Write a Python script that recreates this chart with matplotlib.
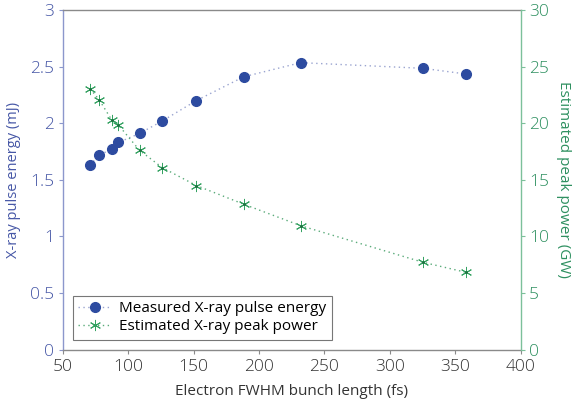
import matplotlib
matplotlib.use("Agg")
import matplotlib.pyplot as plt

plt.rcParams['font.family'] = ['Open Sans', 'DejaVu Sans']

bunch_length = [70.9, 78.0, 87.4, 92.5, 108.8, 126.1, 152.1, 188.3, 231.9, 325.3, 358.0]
pulse_energy = [1.63, 1.72, 1.77, 1.83, 1.91, 2.02, 2.20, 2.41, 2.535, 2.485, 2.435]
peak_power = [23.05, 22.05, 20.3, 19.85, 17.6, 16.08, 14.5, 12.85, 10.95, 7.72, 6.84]

x_ticks = [50, 100, 150, 200, 250, 300, 350, 400]
left_ticks = [0, 0.5, 1, 1.5, 2, 2.5, 3]
left_labels = ['0', '0.5', '1', '1.5', '2', '2.5', '3']
right_ticks = [0, 5, 10, 15, 20, 25, 30]

blue = '#2d4ba0'
blue_axis = '#8c97cc'
blue_text = '#4657a6'
green = '#35a262'
green_axis = '#7cc09a'
green_text = '#2e9060'
gray = '#8a8a8a'

fig = plt.figure(figsize=(5.8, 4.04), dpi=100)
ax = fig.add_axes([62.7/580, 1 - 349.7/404, 458/580, 339.7/404])
ax2 = ax.twinx()

l1, = ax.plot(bunch_length, pulse_energy, linestyle=(0, (1, 2.5)), color='#9aa4d0', lw=1.0,
              marker='o', markersize=7, markerfacecolor=blue, markeredgecolor=blue,
              label='Measured X-ray pulse energy')
l2, = ax2.plot(bunch_length, peak_power, linestyle=(0, (1, 2.5)), color='#5aab7a', lw=1.0,
               marker=(6, 2, 0), markersize=8, markeredgecolor=green, markeredgewidth=0.7,
               label='Estimated X-ray peak power')
ax2.plot(bunch_length, peak_power, linestyle='none', marker='o', markersize=2,
         markerfacecolor='#1f6e40', markeredgecolor='none')

ax.set_xlim(50, 400)
ax.set_ylim(0, 3)
ax2.set_ylim(0, 30)
ax.set_xticks(x_ticks)
ax.set_yticks(left_ticks)
ax.set_yticklabels(left_labels)
ax2.set_yticks(right_ticks)

for a in (ax, ax2):
    for s in a.spines.values():
        s.set_linewidth(1.0)
ax.spines['top'].set_color(gray)
ax.spines['bottom'].set_color(gray)
ax.spines['left'].set_color(blue_axis)
ax.spines['right'].set_visible(False)
ax2.spines['right'].set_color(green_axis)
ax2.spines['left'].set_visible(False)
ax2.spines['top'].set_visible(False)
ax2.spines['bottom'].set_visible(False)

ax.tick_params(axis='x', direction='out', length=3, colors=gray, labelcolor='#333333', labelsize=12.5, pad=4)
ax.tick_params(axis='y', direction='out', length=3, colors=blue_axis, labelcolor=blue_text, labelsize=12.5, pad=3)
ax2.tick_params(axis='y', direction='out', length=3, colors=green_axis, labelcolor=green_text, labelsize=12.5, pad=3)
for lab in ax.get_xticklabels() + ax.get_yticklabels() + ax2.get_yticklabels():
    lab.set_fontweight('light')

ax.set_xlabel('Electron FWHM bunch length (fs)', fontsize=11, color='#333333', labelpad=6)
ax.set_ylabel('X-ray pulse energy (mJ)', fontsize=10.5, color=blue_text, labelpad=7)
ax2.set_ylabel('Estimated peak power (GW)', fontsize=11, color=green_text, rotation=270, labelpad=16)

leg = ax.legend(handles=[l1, l2], loc='lower left', bbox_to_anchor=(0.022, 0.03),
                fontsize=11, frameon=True, fancybox=False, borderpad=0.35,
                handlelength=2.2, handletextpad=0.5, labelspacing=0.2, borderaxespad=0)
leg.get_frame().set_edgecolor('#555555')
leg.get_frame().set_linewidth(0.8)

fig.savefig('out.png', dpi=100)
